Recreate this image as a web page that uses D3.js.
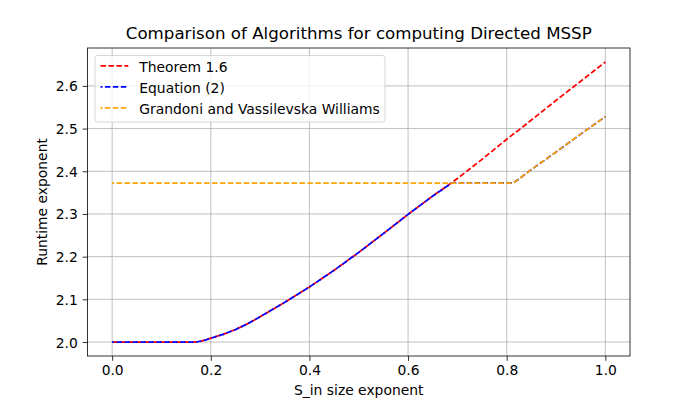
<!DOCTYPE html>
<html>
<head>
<meta charset="utf-8">
<script src="https://cdn.jsdelivr.net/npm/d3@7"></script>
<style>
  html, body { margin: 0; padding: 0; background: #fff; }
  svg { display: block; font-family: "DejaVu Sans", sans-serif; }
</style>
</head>
<body>
<svg id="chart" width="700" height="400"></svg>
<script>
// ---- data ----
const sExponent = [0, 0.05, 0.1, 0.15, 0.17, 0.18, 0.19, 0.2, 0.225, 0.25, 0.275, 0.3, 0.325, 0.35, 0.4, 0.45, 0.5, 0.55, 0.6, 0.65, 0.688, 0.7, 0.75, 0.8, 0.812, 0.825, 0.85, 0.9, 0.95, 1.0];
const theorem16 = [2.0, 2.0, 2.0, 2.0, 2.0, 2.002, 2.005, 2.009, 2.018, 2.029, 2.043, 2.059, 2.076, 2.093, 2.129, 2.168, 2.210, 2.254, 2.299, 2.342, 2.373, 2.383, 2.428, 2.475, 2.486, 2.497, 2.520, 2.566, 2.611, 2.656];
const equation2 = [2.0, 2.0, 2.0, 2.0, 2.0, 2.002, 2.005, 2.009, 2.018, 2.029, 2.043, 2.059, 2.076, 2.093, 2.129, 2.168, 2.210, 2.254, 2.299, 2.342, 2.372, 2.372, 2.372, 2.372, 2.372, 2.382, 2.404, 2.445, 2.487, 2.528];
const grandoniVW = [2.372, 2.372, 2.372, 2.372, 2.372, 2.372, 2.372, 2.372, 2.372, 2.372, 2.372, 2.372, 2.372, 2.372, 2.372, 2.372, 2.372, 2.372, 2.372, 2.372, 2.372, 2.372, 2.372, 2.372, 2.372, 2.382, 2.404, 2.445, 2.487, 2.528];
const seriesNames = ["Theorem 1.6", "Equation (2)", "Grandoni and Vassilevska Williams"];
const seriesColors = ["red", "blue", "orange"];
const xTicks = [0.0, 0.2, 0.4, 0.6, 0.8, 1.0];
const yTicks = [2.0, 2.1, 2.2, 2.3, 2.4, 2.5, 2.6];
const titleText = "Comparison of Algorithms for computing Directed MSSP";
const xLabelText = "S_in size exponent";
const yLabelText = "Runtime exponent";

// ---- layout (matplotlib defaults for 700x400) ----
const L = 87.5, R = 630, T = 48, B = 356;
const fs = 13.89;
const lw = 1.75;
const svg = d3.select("#chart");

const xMin = d3.min(sExponent), xMax = d3.max(sExponent);
const allY = theorem16.concat(equation2, grandoniVW);
const yMin = d3.min(allY), yMax = d3.max(allY);
const xPad = (xMax - xMin) * 0.05, yPad = (yMax - yMin) * 0.05;
const x = d3.scaleLinear().domain([xMin - xPad, xMax + xPad]).range([L, R]);
const y = d3.scaleLinear().domain([yMin - yPad, yMax + yPad]).range([B, T]);

// grid
const grid = svg.append("g");
grid.selectAll("line.gx").data(xTicks).join("line")
  .attr("x1", d => x(d)).attr("x2", d => x(d)).attr("y1", T).attr("y2", B)
  .attr("stroke", "#b0b0b0").attr("stroke-width", 0.8);
grid.selectAll("line.gy").data(yTicks).join("line")
  .attr("y1", d => y(d)).attr("y2", d => y(d)).attr("x1", L).attr("x2", R)
  .attr("stroke", "#b0b0b0").attr("stroke-width", 0.8);

// lines
const series = [theorem16, equation2, grandoniVW];
const offsets = [0, 3.55, 3.55];
const line = d3.line().x((d, i) => x(sExponent[i])).y(d => y(d));
series.forEach((s, k) => {
  svg.append("path").datum(s)
    .attr("d", line)
    .attr("fill", "none")
    .attr("stroke", seriesColors[k])
    .attr("stroke-width", lw)
    .attr("stroke-linejoin", "round")
    .attr("stroke-dasharray", "5.55,2.4")
    .attr("stroke-dashoffset", offsets[k]);
});

// axes
const xAxis = d3.axisBottom(x).tickValues(xTicks).tickFormat(d3.format(".1f")).tickSize(4.86).tickPadding(4.4);
const yAxis = d3.axisLeft(y).tickValues(yTicks).tickFormat(d3.format(".1f")).tickSize(4.86).tickPadding(4.86);
const gx = svg.append("g").attr("transform", `translate(0,${B})`).call(xAxis);
const gy = svg.append("g").attr("transform", `translate(${L},0)`).call(yAxis);
[gx, gy].forEach(g => {
  g.select(".domain").remove();
  g.selectAll(".tick line").attr("stroke", "#000").attr("stroke-width", 0.8);
  g.selectAll(".tick text").attr("font-size", fs).attr("font-family", "DejaVu Sans").attr("fill", "#000");
});
gy.selectAll(".tick text").attr("dy", "0.36em");

// frame
svg.append("rect").attr("x", L).attr("y", T).attr("width", R - L).attr("height", B - T)
  .attr("fill", "none").attr("stroke", "#000").attr("stroke-width", 0.8);

// labels
svg.append("text").attr("x", (L + R) / 2).attr("y", 39).attr("text-anchor", "middle")
  .attr("font-size", 16.67).text(titleText);
svg.append("text").attr("x", (L + R) / 2).attr("y", 395).attr("text-anchor", "middle")
  .attr("font-size", fs).text(xLabelText);
svg.append("text").attr("transform", `translate(47,${(T + B) / 2}) rotate(-90)`)
  .attr("text-anchor", "middle").attr("font-size", fs).text(yLabelText);

// legend
const lg = svg.append("g");
lg.append("rect").attr("x", 95).attr("y", 55.5).attr("width", 290).attr("height", 66.5)
  .attr("rx", 2.8).attr("ry", 2.8)
  .attr("fill", "#fff").attr("fill-opacity", 0.8)
  .attr("stroke", "#cccccc").attr("stroke-width", 0.8);
seriesNames.forEach((name, k) => {
  const cy = 65.8 + k * 21;
  lg.append("line").attr("x1", 100.5).attr("x2", 128.3).attr("y1", cy).attr("y2", cy)
    .attr("stroke", seriesColors[k]).attr("stroke-width", lw)
    .attr("stroke-dasharray", "5.55,2.4").attr("stroke-dashoffset", offsets[k]);
  lg.append("text").attr("x", 139.3).attr("y", cy + 6.6).attr("font-size", fs).text(name);
});
</script>
</body>
</html>
